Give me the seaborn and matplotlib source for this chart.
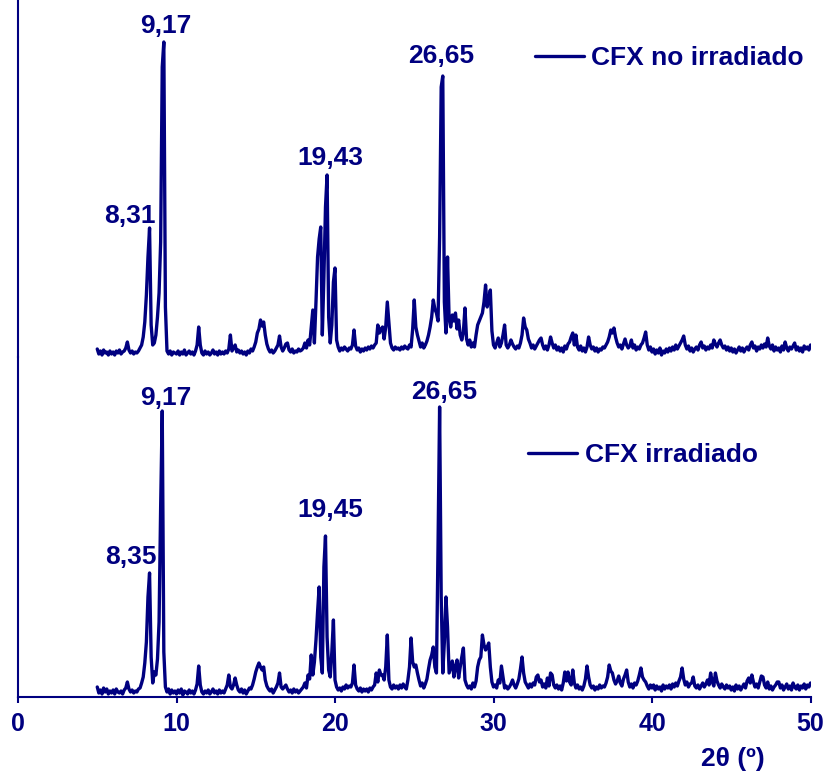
import numpy as np
import pandas as pd
import matplotlib
matplotlib.use("Agg")
import matplotlib.pyplot as plt
import seaborn as sns

# ---------------- data ----------------
two_theta_start = 5.0
two_theta_step = 0.1

# intensity, CFX no irradiado (arbitrary units), one row per degree 5..49, then 50.0
i_no_irr = [
    8, 3, 6, 2, 7, 4, 5, 2, 6, 3,
    5, 2, 6, 4, 7, 3, 5, 6, 9, 15,
    7, 4, 6, 3, 5, 4, 6, 9, 12, 20,
    35, 62, 100, 129, 32, 12, 14, 22, 40, 64,
    115, 290, 315, 50, 6, 3, 6, 2, 5, 4,
    3, 6, 2, 5, 3, 7, 2, 4, 6, 3,
    5, 2, 6, 12, 30, 12, 4, 2, 6, 3,
    5, 2, 4, 7, 3, 5, 2, 6, 3, 5,
    3, 6, 4, 8, 22, 6, 9, 12, 5, 7,
    4, 6, 3, 5, 2, 6, 4, 8, 6, 10,
    15, 24, 28, 37, 31, 35, 22, 13, 8, 5,
    7, 4, 6, 9, 12, 21, 10, 6, 9, 13,
    14, 7, 5, 8, 4, 6, 5, 8, 6, 7,
    9, 14, 9, 17, 12, 30, 47, 14, 55, 100,
    118, 130, 22, 80, 150, 182, 40, 14, 32, 75,
    89, 17, 10, 6, 9, 7, 10, 8, 6, 9,
    8, 12, 27, 11, 7, 9, 5, 8, 6, 9,
    7, 10, 8, 11, 9, 12, 14, 32, 24, 28,
    30, 18, 30, 55, 35, 14, 9, 7, 10, 8,
    9, 7, 10, 8, 11, 9, 8, 12, 10, 28,
    57, 30, 22, 16, 10, 14, 9, 12, 16, 22,
    30, 40, 57, 48, 44, 36, 120, 270, 281, 55,
    24, 100, 38, 30, 42, 36, 44, 28, 37, 22,
    17, 25, 49, 18, 12, 17, 10, 14, 10, 22,
    32, 36, 40, 44, 55, 72, 50, 58, 67, 26,
    12, 9, 14, 19, 10, 14, 22, 32, 12, 9,
    12, 17, 13, 10, 8, 11, 9, 14, 22, 39,
    30, 27, 18, 14, 9, 12, 8, 11, 14, 17,
    19, 12, 8, 11, 7, 12, 20, 14, 9, 12,
    7, 10, 6, 9, 5, 11, 8, 13, 15, 20,
    24, 12, 22, 10, 7, 11, 6, 9, 5, 10,
    20, 12, 8, 10, 6, 9, 5, 8, 7, 10,
    9, 12, 15, 20, 27, 24, 29, 20, 14, 10,
    12, 8, 13, 18, 12, 9, 11, 17, 9, 12,
    7, 10, 8, 12, 14, 19, 25, 12, 7, 10,
    5, 8, 3, 7, 4, 9, 2, 6, 4, 8,
    5, 9, 6, 10, 7, 12, 8, 11, 14, 17,
    21, 12, 8, 11, 6, 9, 5, 8, 10, 7,
    12, 15, 9, 11, 7, 10, 8, 12, 9, 17,
    13, 10, 14, 17, 12, 9, 11, 7, 10, 6,
    9, 5, 8, 4, 7, 10, 6, 9, 5, 8,
    10, 7, 12, 15, 9, 11, 6, 10, 8, 12,
    9, 13, 10, 19, 11, 8, 12, 6, 10, 7,
    9, 5, 11, 7, 15, 9, 6, 10, 8, 11,
    14, 7, 10, 6, 9, 5, 11, 8, 10, 7,
    12,
]

# intensity, CFX irradiado
i_irr = [
    10, 4, 7, 3, 9, 5, 8, 3, 6, 4,
    7, 3, 8, 5, 4, 6, 3, 7, 9, 15,
    8, 5, 7, 4, 6, 5, 8, 9, 14, 20,
    34, 55, 100, 124, 40, 14, 25, 22, 38, 75,
    190, 286, 45, 10, 5, 8, 3, 7, 4, 6,
    3, 7, 4, 8, 2, 6, 5, 3, 7, 4,
    6, 3, 7, 13, 31, 12, 5, 3, 6, 4,
    7, 3, 5, 8, 4, 6, 3, 7, 4, 6,
    4, 8, 12, 22, 10, 8, 12, 19, 12, 7,
    5, 8, 4, 7, 3, 6, 9, 8, 12, 18,
    25, 30, 34, 30, 27, 30, 17, 11, 8, 6,
    8, 4, 7, 10, 14, 24, 10, 8, 10, 12,
    8, 5, 7, 4, 8, 5, 7, 4, 6, 8,
    10, 14, 9, 22, 18, 42, 22, 35, 57, 85,
    110, 40, 24, 130, 161, 60, 27, 20, 45, 77,
    17, 10, 7, 9, 6, 10, 8, 12, 9, 11,
    10, 14, 32, 12, 8, 6, 9, 5, 8, 6,
    8, 5, 9, 7, 10, 12, 24, 15, 27, 22,
    22, 17, 30, 62, 17, 10, 8, 12, 9, 11,
    8, 12, 9, 13, 10, 8, 17, 30, 59, 35,
    30, 32, 24, 17, 11, 14, 9, 13, 18, 28,
    37, 42, 50, 30, 24, 150, 290, 100, 24, 55,
    100, 70, 24, 30, 36, 20, 30, 37, 19, 30,
    40, 49, 17, 12, 9, 11, 8, 14, 10, 16,
    30, 37, 40, 62, 52, 47, 50, 54, 30, 15,
    10, 12, 9, 17, 14, 31, 20, 9, 11, 8,
    10, 13, 17, 12, 9, 13, 18, 28, 40, 24,
    15, 12, 9, 13, 10, 14, 12, 20, 22, 15,
    17, 10, 13, 9, 19, 11, 24, 22, 12, 9,
    12, 8, 11, 7, 14, 25, 16, 25, 15, 12,
    27, 14, 9, 12, 8, 10, 7, 11, 18, 31,
    20, 12, 9, 11, 7, 10, 8, 12, 9, 11,
    10, 14, 20, 32, 26, 24, 17, 13, 16, 21,
    14, 11, 18, 22, 27, 15, 10, 13, 9, 14,
    12, 16, 22, 29, 20, 17, 15, 11, 8, 12,
    9, 12, 7, 11, 8, 10, 6, 12, 8, 11,
    9, 12, 8, 13, 10, 14, 11, 16, 20, 29,
    18, 12, 15, 10, 13, 14, 20, 11, 9, 12,
    8, 11, 14, 10, 13, 17, 12, 24, 15, 11,
    24, 16, 12, 9, 13, 10, 8, 12, 9, 11,
    7, 10, 6, 12, 8, 11, 7, 10, 13, 9,
    16, 19, 14, 22, 15, 10, 13, 9, 15, 21,
    20, 12, 9, 15, 8, 11, 7, 10, 12, 15,
    15, 9, 12, 7, 10, 13, 8, 11, 7, 14,
    10, 8, 12, 7, 11, 9, 13, 8, 12, 10,
    14,
]

series_names = ["CFX no irradiado", "CFX irradiado"]

labels_top = ["8,31", "9,17", "19,43", "26,65"]
labels_top_x = [7.07, 9.34, 19.72, 26.73]
labels_top_y = [134, 324, 192, 294]

labels_bot = ["8,35", "9,17", "19,45", "26,65"]
labels_bot_x = [7.15, 9.34, 19.72, 26.86]
labels_bot_y = [133, 292, 180, 298]

x_ticks = [0, 10, 20, 30, 40, 50]
x_title = "2θ (º)"

# ---------------- style ----------------
sns.set_style("white")
plt.rcParams["font.family"] = ["Liberation Sans", "DejaVu Sans"]
NAVY = "#000080"

two_theta = np.round(two_theta_start + two_theta_step * np.arange(len(i_no_irr)), 1)
df_top = pd.DataFrame({"two_theta": two_theta, "I": i_no_irr})
df_bot = pd.DataFrame({"two_theta": two_theta, "I": i_irr})

W, H = 830, 771
fig = plt.figure(figsize=(W / 100, H / 100), dpi=100)


def add_ax(l, t, r, b):
    return fig.add_axes([l / W, 1 - b / H, (r - l) / W, (b - t) / H])


ax_top = add_ax(18, 0, 810.5, 357)
ax_bot = add_ax(18, 357, 810.5, 697)

for ax, df, name, ymax, anchor in [
    (ax_top, df_top, series_names[0], 357, (0.652, 0.8375)),
    (ax_bot, df_bot, series_names[1], 340, (0.6435, 0.712)),
]:
    sns.lineplot(data=df, x="two_theta", y="I", ax=ax, color=NAVY,
                 linewidth=2.4, label=name, estimator=None, sort=False)
    ax.set_xlim(0, 50)
    ax.set_ylim(0, ymax)
    ax.set_xlabel("")
    ax.set_ylabel("")
    ax.set_yticks([])
    ax.patch.set_alpha(0)
    for s in ["top", "right"]:
        ax.spines[s].set_visible(False)
    ax.spines["left"].set_color(NAVY)
    ax.spines["left"].set_linewidth(1.5)
    leg = ax.legend(loc="center left", bbox_to_anchor=anchor, frameon=False,
                    borderpad=0, borderaxespad=0, handlelength=1.85,
                    handletextpad=0.3,
                    prop={"weight": "bold", "size": 19}, labelcolor=NAVY)

ax_top.spines["bottom"].set_visible(False)
ax_top.set_xticks([])

ax_bot.spines["bottom"].set_color(NAVY)
ax_bot.spines["bottom"].set_linewidth(1.5)
ax_bot.set_xticks(x_ticks)
ax_bot.set_xticklabels([str(t) for t in x_ticks])
ax_bot.tick_params(axis="x", direction="out", length=4, width=1.5, color=NAVY,
                   pad=6.5, labelsize=18, labelcolor=NAVY, bottom=True)
for lbl in ax_bot.get_xticklabels():
    lbl.set_fontweight("bold")

for txt, x, y in zip(labels_top, labels_top_x, labels_top_y):
    ax_top.text(x, y, txt, ha="center", va="baseline", color=NAVY,
                fontsize=19, fontweight="bold")
for txt, x, y in zip(labels_bot, labels_bot_x, labels_bot_y):
    ax_bot.text(x, y, txt, ha="center", va="baseline", color=NAVY,
                fontsize=19, fontweight="bold", clip_on=False)

fig.text(733 / W, 1 - 766 / H, x_title, ha="center", va="baseline",
         color=NAVY, fontsize=19, fontweight="bold")

fig.savefig("out.png", dpi=100)
